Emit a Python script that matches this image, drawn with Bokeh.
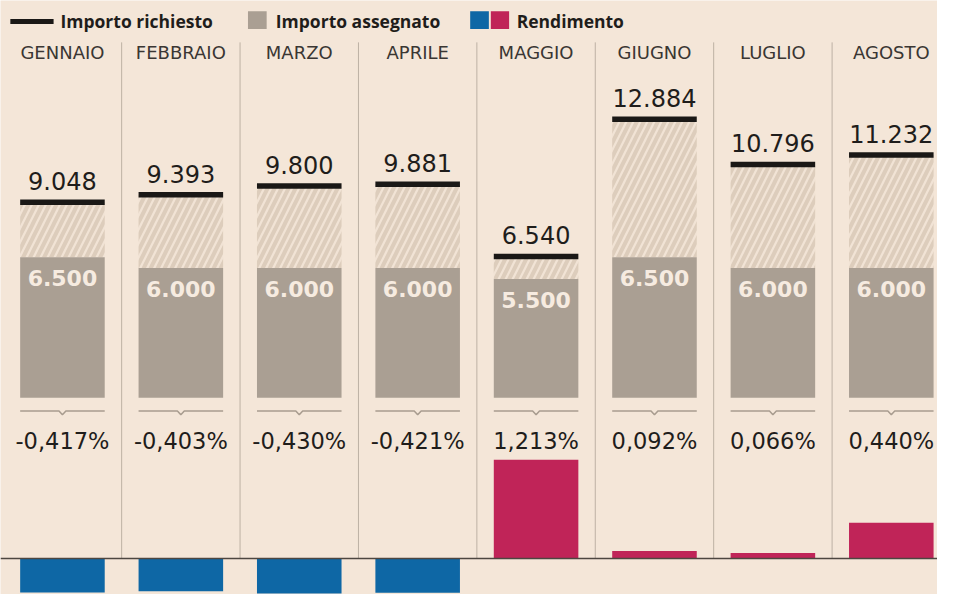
from bokeh.plotting import figure
from bokeh.models import Range1d
from bokeh.core.properties import value
from bokeh.embed import file_html
from bokeh.resources import INLINE

# ---------------- data ----------------
months = ["GENNAIO", "FEBBRAIO", "MARZO", "APRILE", "MAGGIO", "GIUGNO", "LUGLIO", "AGOSTO"]
richiesto = [9048, 9393, 9800, 9881, 6540, 12884, 10796, 11232]
assegnato = [6500, 6000, 6000, 6000, 5500, 6500, 6000, 6000]
rendimento = [-0.417, -0.403, -0.430, -0.421, 1.213, 0.092, 0.066, 0.440]
legend_labels = ["Importo richiesto", "Importo assegnato", "Rendimento"]

# ---------------- style ----------------
BG = "#f4e6d8"
GRAY = "#aa9f93"
HATCH_BG = "#f1e3d5"
HATCH_FG = "#ddcdbc"
BLACK = "#1a1816"
BLUE = "#0e67a5"
PINK = "#c02458"
SEP = "#bdb1a4"
TXT = "#1f1d1b"
NUM_FONT = value("DejaVu Sans")
LEG_FONT = value("Open Sans")

W, H = 937, 594
REF_W, REF_H = 953, 610
X0, DX = 63.0, 120.43          # layout: centre of first column, column pitch
Y_BASE, PX_PER_UNIT = 408.0, 0.0222
Y_PBASE, PX_PER_PCT = 573.0, 83.6
BW = 86.0 / DX


def fx(X):
    return (X - X0) / DX


def fy(Y):
    return (Y_BASE - Y) / PX_PER_UNIT


def fp(Y):
    return (Y_PBASE - Y) / PX_PER_PCT


def it_int(v):
    return f"{v:,}".replace(",", ".")


def it_pct(v):
    return f"{v:.3f}".replace(".", ",") + "%"


xs = list(range(len(months)))

p = figure(width=W, height=H, output_backend="svg", toolbar_location=None,
           x_range=Range1d(fx(0), fx(REF_W)), y_range=Range1d(fy(REF_H), fy(0)),
           x_axis_location=None, y_axis_location=None, min_border=0,
           background_fill_color=BG, border_fill_color=BG, outline_line_color=None)
p.extra_y_ranges = {"pct": Range1d(fp(REF_H), fp(0))}
p.grid.visible = False

# column separators
p.segment(x0=[i + 0.5 for i in xs[:-1]], x1=[i + 0.5 for i in xs[:-1]],
          y0=fy(43), y1=fy(Y_PBASE), line_color=SEP, line_width=1)

# month labels
p.text(x=xs, y=fy(53.5), text=months, text_align="center", text_baseline="middle",
       text_font=NUM_FONT, text_font_size="18px", text_color="#3a3633")

# hatched portion (requested but not assigned)
p.vbar(x=xs, bottom=assegnato, top=richiesto, width=BW, fill_color=HATCH_BG,
       line_color=None, hatch_pattern="/", hatch_color=HATCH_FG,
       hatch_weight=4, hatch_scale=14)
# assigned
p.vbar(x=xs, bottom=0, top=assegnato, width=BW, fill_color=GRAY, line_color=None)
# requested marker
p.rect(x=xs, y=richiesto, width=BW, height=5.5, height_units="screen",
       fill_color=BLACK, line_color=None)

# requested labels
p.text(x=xs, y=richiesto, text=[it_int(v) for v in richiesto], text_align="center",
       text_baseline="middle", y_offset=-21, text_font=NUM_FONT,
       text_font_size="24px", text_color=TXT)
# assigned labels
p.text(x=xs, y=assegnato, text=[it_int(v) for v in assegnato], text_align="center",
       text_baseline="middle", y_offset=21, text_font=NUM_FONT,
       text_font_size="22px", text_font_style="bold", text_color="#f6ebe0")

# connector with notch
n = 3.5 / DX
ly, ny = fy(421.5), fy(425.5)
p.multi_line(xs=[[i - BW / 2, i - n, i, i + n, i + BW / 2] for i in xs],
             ys=[[ly, ly, ny, ly, ly] for _ in xs], line_color="#a89c8f", line_width=1.5)

# yield labels
p.text(x=xs, y=fp(452), text=[it_pct(v) for v in rendimento], y_range_name="pct",
       text_align="center", text_baseline="middle", text_font=NUM_FONT,
       text_font_size="22.5px", text_color=TXT)

# yield bars
p.vbar(x=xs, bottom=0, top=rendimento, width=BW, y_range_name="pct",
       fill_color=[BLUE if v < 0 else PINK for v in rendimento], line_color=None)

# baseline
p.segment(x0=fx(0), x1=fx(REF_W), y0=0, y1=0, y_range_name="pct",
          line_color="#4d4640", line_width=1.5)

# legend
p.segment(x0=fx(10), x1=fx(54), y0=fy(21.5), y1=fy(21.5), line_color=BLACK, line_width=5)
p.quad(left=[fx(251.7), fx(477.7), fx(498.7)], right=[fx(270.7), fx(496.7), fx(517.3)],
       bottom=fy(29.3), top=fy(11), fill_color=[GRAY, BLUE, PINK], line_color=None)
p.text(x=[fx(61), fx(280), fx(525)], y=fy(21), text=legend_labels,
       text_align="left", text_baseline="middle", text_font=LEG_FONT,
       text_font_size="17.5px", text_font_style="bold", text_color=TXT)

open("out.html", "w").write(file_html(p, INLINE))
